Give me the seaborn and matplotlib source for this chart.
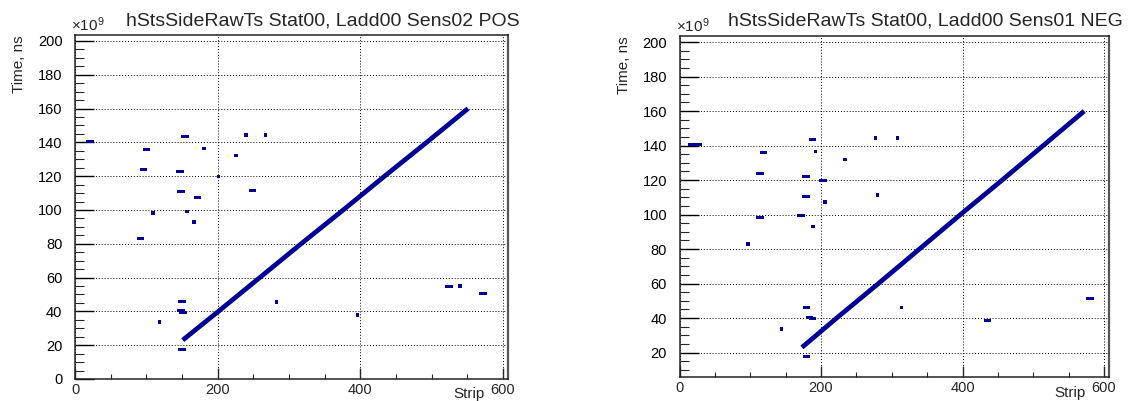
import matplotlib
matplotlib.use("Agg")
import matplotlib.pyplot as plt
from matplotlib.markers import MarkerStyle
from matplotlib.ticker import MultipleLocator
import seaborn as sns

sns.set_style("white")
plt.rcParams['font.family'] = ['Liberation Sans', 'DejaVu Sans']
plt.rcParams['mathtext.fontset'] = 'custom'
plt.rcParams['mathtext.rm'] = 'Liberation Sans'

titles = ["hStsSideRawTs Stat00, Ladd00 Sens02 POS",
          "hStsSideRawTs Stat00, Ladd00 Sens01 NEG"]

# main diagonal band: strip vs time (x1e9 ns)
pos_band_x = [151, 201, 259, 317, 376, 434, 493, 551]
pos_band_y = [23, 40, 60, 80, 100, 120, 140, 160]
neg_band_x = [173, 222, 281, 339, 397, 456, 514, 572]
neg_band_y = [23, 40, 60, 80, 100, 120, 140, 160]

# isolated hits, wider boxes
pos_dash_x = [21, 100, 96, 154, 147, 149, 249, 172, 92, 150, 149, 151, 150, 524, 572]
pos_dash_y = [140.3, 136, 124, 143.6, 122.6, 110.8, 111.3, 107.3, 83.2, 45.7, 40.6, 39.6, 17.2, 55, 50.5]
# isolated hits, small boxes
pos_dot_x = [181, 240, 267, 226, 201, 109, 157, 167, 118.5, 282.5, 396, 540]
pos_dot_y = [136.4, 144.4, 144.4, 132.3, 119.8, 98.3, 99, 93, 33.9, 45.7, 37.8, 55]

neg_dash_x = [18, 27, 118.5, 113.7, 179, 203, 179, 113.7, 172, 179.6, 184, 188, 179.6, 435.5, 580]
neg_dash_y = [140.4, 140.4, 136, 123.8, 122, 119.9, 110.3, 98.2, 99.6, 46.2, 40.5, 39.7, 17.7, 38.4, 51.3]
neg_dot_x = [186, 191, 192.4, 234, 277, 308, 280, 206, 189, 96.4, 144, 313.8]
neg_dot_y = [143.6, 143.6, 136.6, 132, 144.3, 144.3, 111.5, 107.1, 93.1, 82.9, 33.8, 46.2]

panels = [
    dict(title=titles[0], bx=pos_band_x, by=pos_band_y, dx=pos_dash_x, dy=pos_dash_y,
         px=pos_dot_x, py=pos_dot_y, rect=[75/1136, 22/401, 433/1136, 344/401], ylim=(0, 203.5)),
    dict(title=titles[1], bx=neg_band_x, by=neg_band_y, dx=neg_dash_x, dy=neg_dash_y,
         px=neg_dot_x, py=neg_dot_y, rect=[679.5/1136, 23.7/401, 429.5/1136, 341.3/401], ylim=(5.7, 203.5)),
]

col = "#000096"
dash_marker = MarkerStyle([(-1, -0.4), (1, -0.4), (1, 0.4), (-1, 0.4), (-1, -0.4)])

fig = plt.figure(figsize=(11.36, 4.01), dpi=100)

for p in panels:
    ax = fig.add_axes(p["rect"])
    sns.lineplot(x=p["bx"], y=p["by"], ax=ax, color=col, linewidth=3.4,
                 sort=False, estimator=None, solid_capstyle='butt')
    sns.scatterplot(x=p["dx"], y=p["dy"], ax=ax, marker=dash_marker, s=30,
                    color=col, edgecolor='none', linewidth=0, legend=False)
    sns.scatterplot(x=p["px"], y=p["py"], ax=ax, marker='s', s=7,
                    color=col, edgecolor='none', linewidth=0, legend=False)

    ax.set_xlim(0, 607)
    ax.set_ylim(*p["ylim"])
    ax.xaxis.set_major_locator(MultipleLocator(200))
    ax.xaxis.set_minor_locator(MultipleLocator(50))
    ax.yaxis.set_major_locator(MultipleLocator(20))
    ax.yaxis.set_minor_locator(MultipleLocator(5))
    ax.tick_params(axis='y', which='major', direction='in', length=14, width=1,
                   pad=9, labelsize=10.5, left=True, right=False, colors='black')
    ax.tick_params(axis='y', which='minor', direction='in', length=6.5, width=0.8, left=True)
    ax.tick_params(axis='x', which='major', direction='in', length=8, width=1,
                   pad=3, labelsize=10.5, bottom=True, top=False)
    ax.tick_params(axis='x', which='minor', direction='in', length=3.5, width=0.8, bottom=True)
    ax.grid(True, which='major', color='black', linestyle=(0, (1, 2)), linewidth=0.7)
    ax.set_axisbelow(True)
    for s in ax.spines.values():
        s.set_color('#222222')
        s.set_linewidth(1.1)
    ax.spines['right'].set_color('#555555')
    ax.spines['right'].set_linewidth(1.6)

    x0, y0, w, h = p["rect"]
    fig.text(x0 + w / 2 + 31 / 1136, 1 - 26 / 401, p["title"], ha='center',
             va='baseline', fontsize=14)
    fig.text(x0 - 4 / 1136, y0 + h + 1 / 401, r"$\mathregular{\times10^{9}}$",
             ha='left', va='bottom', fontsize=11)
    fig.text(x0 - 56 / 1136, y0 + h, "Time, ns", rotation=90, ha='center',
             va='top', fontsize=11)
    ax.annotate("Strip", xy=(0.945, 0), xycoords='axes fraction', xytext=(0, -6),
                textcoords='offset points', ha='right', va='top', fontsize=11)

fig.savefig("out.png", dpi=100)
